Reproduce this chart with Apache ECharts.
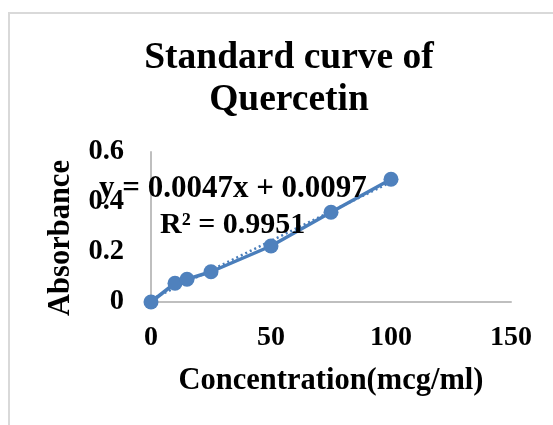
<!DOCTYPE html>
<html>
<head>
<meta charset="utf-8">
<script src="https://cdn.jsdelivr.net/npm/echarts@6/dist/echarts.min.js"></script>
<style>
  html, body { margin: 0; padding: 0; background: #fff; }
  #chart { width: 553px; height: 425px; }
</style>
</head>
<body>
<div id="chart"></div>
<script>
// concentration (mcg/ml) and absorbance
const concentration = [0, 10, 15, 25, 50, 75, 100];
const absorbance = [0, 0.075, 0.091, 0.121, 0.224, 0.359, 0.491];

// linear trendline end points (y = 0.0047x + 0.0097)
const trendX = [0, 100];
const trendY = [0.0097, 0.4797];

const xTicks = [0, 50, 100, 150];
const yTicks = [0, 0.2, 0.4, 0.6];

const equationText = 'y = 0.0047x + 0.0097';
const r2Text = 'R² = 0.9951';

const font = '"Liberation Serif", "Times New Roman", serif';
const blue = '#4a7ebb';

const chart = echarts.init(document.getElementById('chart'));

chart.setOption({
  animation: false,
  title: {
    text: 'Standard curve of\nQuercetin',
    left: 284,
    top: 32,
    textAlign: 'center',
    textStyle: {
      fontFamily: font,
      fontWeight: 'bold',
      fontSize: 37.5,
      lineHeight: 42,
      color: '#000'
    }
  },
  grid: { left: 151, right: 42, top: 152, bottom: 123 },
  xAxis: {
    type: 'value',
    min: xTicks[0],
    max: xTicks[xTicks.length - 1],
    interval: 50,
    name: 'Concentration(mcg/ml)',
    nameLocation: 'middle',
    nameGap: 64,
    nameTextStyle: { fontFamily: font, fontWeight: 'bold', fontSize: 30.5, color: '#000' },
    axisLine: { lineStyle: { color: '#bfbfbf', width: 2 } },
    axisTick: { show: false },
    splitLine: { show: false },
    axisLabel: { fontFamily: font, fontWeight: 'bold', fontSize: 28, color: '#000', margin: 22 }
  },
  yAxis: {
    type: 'value',
    min: yTicks[0],
    max: yTicks[yTicks.length - 1],
    interval: 0.2,
    name: 'Absorbance',
    nameLocation: 'middle',
    nameGap: 74,
    nameTextStyle: {
      fontFamily: font, fontWeight: 'bold', fontSize: 30.5, color: '#000',
      padding: [0, 22, 0, 0]
    },
    axisLine: { show: true, lineStyle: { color: '#bfbfbf', width: 2 } },
    axisTick: { show: false },
    splitLine: { show: false },
    axisLabel: { fontFamily: font, fontWeight: 'bold', fontSize: 28.5, color: '#000', margin: 27 }
  },
  series: [
    {
      type: 'line',
      data: trendX.map((x, i) => [x, trendY[i]]),
      symbol: 'none',
      lineStyle: { color: blue, width: 2.5, type: [2, 3] },
      z: 2
    },
    {
      type: 'line',
      data: concentration.map((x, i) => [x, absorbance[i]]),
      symbol: 'circle',
      symbolSize: 15,
      itemStyle: { color: '#4f81bd' },
      lineStyle: { color: blue, width: 3.5 },
      z: 3
    }
  ],
  graphic: [
    {
      type: 'rect',
      shape: { x: 9, y: 13, width: 600, height: 500 },
      style: { fill: 'none', stroke: '#d9d9d9', lineWidth: 2 },
      silent: true,
      z: 0
    },
    {
      type: 'text',
      left: 99,
      top: 173,
      z: 10,
      style: { text: equationText, font: 'bold 31px ' + font, fill: '#000' }
    },
    {
      type: 'text',
      left: 160,
      top: 210,
      z: 10,
      style: { text: r2Text, font: 'bold 30px ' + font, fill: '#000' }
    }
  ]
});
</script>
</body>
</html>
